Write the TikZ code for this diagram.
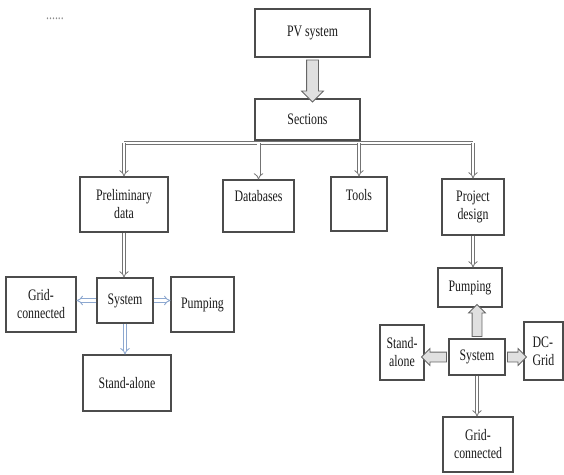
\documentclass[tikz,border=0pt]{standalone}
\usepackage{fontspec}
\setmainfont{Liberation Serif}[FakeStretch=0.74]
\usetikzlibrary{arrows.meta,shapes.arrows}
\definecolor{steel}{HTML}{8DA8D0}

\begin{document}
\begin{tikzpicture}[x=1pt,y=-1pt,font=\fontsize{16}{18}\selectfont,
  box/.style={draw=black!70,line width=1.1pt,text=black!90,align=center,inner sep=2pt},
  twin/.style={draw=black!55,line width=0.8pt,double=white,double distance=2.4pt},
  twinarrow/.style={twin,-{Implies}},
  bluearrow/.style={twinarrow,draw=steel,line width=0.9pt},
  fatarrow/.style={single arrow,draw=black!60,fill=black!12,line width=0.8pt,
    single arrow head indent=0pt}]
\useasboundingbox (0,0) rectangle (564,474);

\node[text=black!45] (dots) at (55,19) {......};

% top
\node[box,minimum width=115pt,minimum height=48pt] (pv) at (312.5,33) {PV system};
\node[box,minimum width=105pt,minimum height=41pt] (sec) at (307.5,119.5) {Sections};
\path (pv.south) -- (pv.south |- sec.north)
  node[midway,fatarrow,shape border rotate=270,minimum height=42pt,
       inner sep=5.5pt,single arrow head extend=5pt] (a1) {};

% sections
\node[box,minimum width=88pt,minimum height=55pt] (prelim) at (124,204.5) {Preliminary\\data};
\node[box,minimum width=71pt,text height=19pt,text depth=29pt] (db) at (258.5,206) {Databases};
\node[box,minimum width=56pt,text height=21pt,text depth=29pt] (tools) at (359,204) {Tools};
\node[box,minimum width=62pt,minimum height=56pt] (proj) at (473,207) {Project\\design};

\coordinate (busL) at (124,143);
\coordinate (busR) at (473,143);
\draw[twin] (busL) -- (busR);
\draw[twinarrow] (busL) -- (prelim.north);
\draw[twinarrow] (db.north |- busL) -- (db.north);
\draw[twinarrow] (tools.north |- busL) -- (tools.north);
\draw[twinarrow] (busR) -- (proj.north);

% left system
\node[box,minimum width=56pt,minimum height=45pt] (sysL) at (125,300.5) {System};
\node[box,minimum width=70pt,minimum height=55pt] (gridL) at (41,304.5) {Grid-\\connected};
\node[box,minimum width=63pt,minimum height=55pt] (pumpL) at (202.5,304.5) {Pumping};
\node[box,minimum width=88pt,minimum height=56pt] (standL) at (127,383) {Stand-alone};

\draw[twinarrow] (prelim.south) -- (prelim.south |- sysL.north);
\draw[bluearrow] (sysL.west) -- (gridL.east |- sysL.west);
\draw[bluearrow] (sysL.east) -- (pumpL.west |- sysL.east);
\draw[bluearrow] (sysL.south) -- (sysL.south |- standL.north);

% right system
\node[box,minimum width=64pt,minimum height=39pt] (pumpR) at (470,287.5) {Pumping};
\node[box,minimum width=56pt,minimum height=36pt] (sysR) at (477,357) {System};
\node[box,minimum width=44pt,minimum height=55pt] (standR) at (402,352.5) {Stand-\\alone};
\node[box,minimum width=39pt,minimum height=58pt,align=left] (dcR) at (543.5,351) {DC-\\Grid};
\node[box,minimum width=70pt,minimum height=55pt] (gridR) at (478,444.5) {Grid-\\connected};

\draw[twinarrow] (proj.south) -- (proj.south |- pumpR.north);
\path (sysR.north) -- (sysR.north |- pumpR.south)
  node[midway,fatarrow,shape border rotate=90,minimum height=32pt,
       inner sep=4.5pt,single arrow head extend=3.5pt] (a2) {};
\path (sysR.west) -- (standR.east |- sysR.west)
  node[midway,fatarrow,shape border rotate=180,minimum height=25pt,
       inner sep=4.5pt,single arrow head extend=3.5pt] (a3) {};
\path (sysR.east) -- (dcR.west |- sysR.east)
  node[midway,fatarrow,minimum height=19pt,
       inner sep=4.5pt,single arrow head extend=3.5pt] (a4) {};
\draw[twinarrow] (sysR.south) -- (sysR.south |- gridR.north);

\end{tikzpicture}
\end{document}
